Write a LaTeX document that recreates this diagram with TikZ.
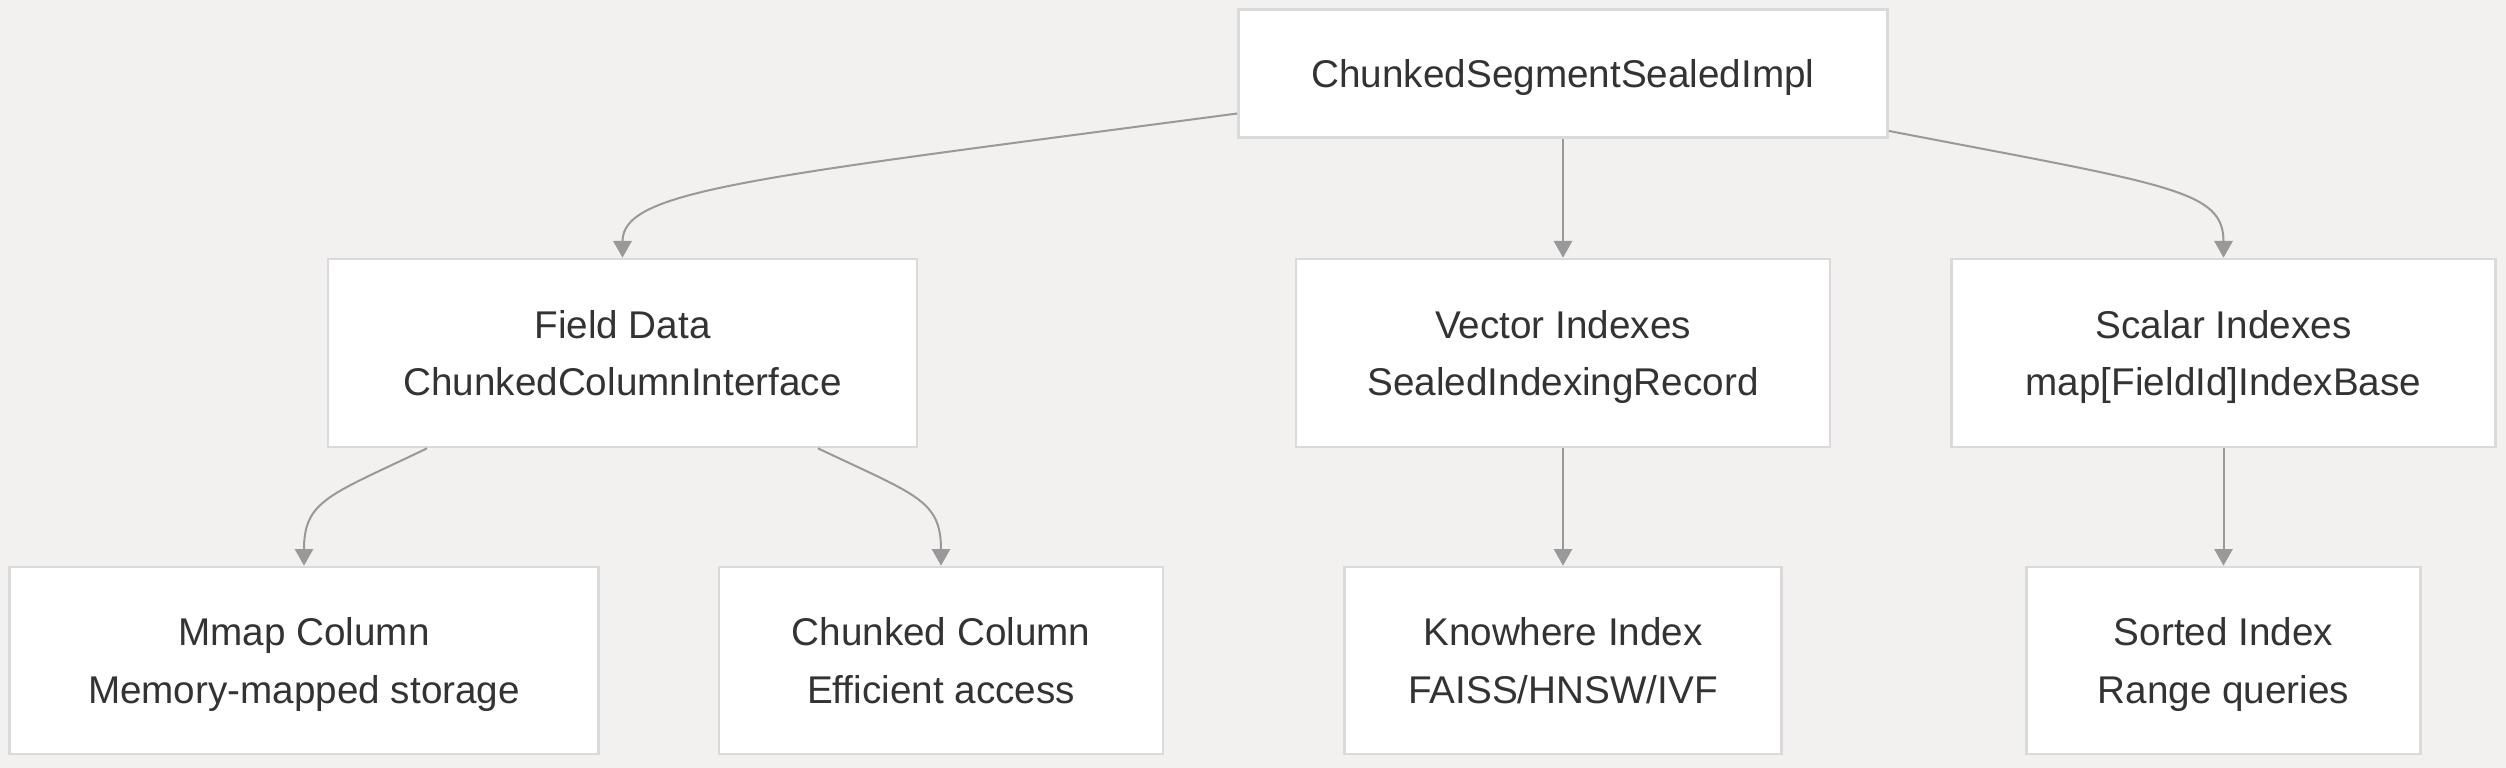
\documentclass[tikz,border=0pt]{standalone}
\usepackage{fontspec}
\setmainfont{Liberation Sans}
\usetikzlibrary{arrows.meta}
\definecolor{bgcol}{HTML}{F2F1EF}
\definecolor{boxline}{HTML}{DADADA}
\definecolor{edgecol}{HTML}{999999}
\definecolor{txtcol}{HTML}{333333}

\begin{document}
\begin{tikzpicture}[x=0.3pt, y=-0.3pt,
    box/.style={draw=boxline, line width=0.8pt, fill=white, text=txtcol, align=center,
      inner sep=0pt, text depth=-2pt, font=\fontsize{11.6}{17.3}\selectfont},
    link/.style={draw=edgecol, line width=0.6pt, -{Triangle[length=5pt, width=5.5pt]}}]
    \fill[bgcol] (0,0) rectangle (2506,768);

    \node[box, text depth=0pt, minimum width=194.7pt, minimum height=38.4pt] (sealed) at (1563,73.5) {ChunkedSegmentSealedImpl};

    \node[box, minimum width=176.7pt, minimum height=56.4pt] (fielddata) at (622.5,353) {Field Data\\ChunkedColumnInterface};
    \node[box, minimum width=160.2pt, minimum height=56.4pt] (vecidx) at (1563,353) {Vector Indexes\\SealedIndexingRecord};
    \node[box, minimum width=163.2pt, minimum height=56.4pt] (scalaridx) at (2223.5,353) {Scalar Indexes\\map[FieldId]IndexBase};

    \node[box, minimum width=176.7pt, minimum height=56.1pt] (mmapcol) at (304,660.5) {Mmap Column\\Memory-mapped storage};
    \node[box, minimum width=133.2pt, minimum height=56.1pt] (chunkcol) at (941,660.5) {Chunked Column\\Efficient access};
    \node[box, minimum width=131.1pt, minimum height=56.1pt] (knowhere) at (1563,660.5) {Knowhere Index\\FAISS/HNSW/IVF};
    \node[box, minimum width=118.2pt, minimum height=56.1pt] (sorted) at (2223.5,660.5) {Sorted Index\\Range queries};

    \draw[link] (sealed.187.6) .. controls (750,178) and (622.5,190) .. (fielddata.north);
    \draw[link] (sealed) -- (vecidx);
    \draw[link] (sealed.-10.9) .. controls (2170,185) and (2223.5,190) .. (scalaridx.north);

    \draw[link] (fielddata.206) .. controls (330,495) and (304,500) .. (mmapcol.north);
    \draw[link] (fielddata.-26) .. controls (916,495) and (941,500) .. (chunkcol.north);
    \draw[link] (vecidx) -- (knowhere);
    \draw[link] (scalaridx) -- (sorted);
  \end{tikzpicture}
\end{document}
